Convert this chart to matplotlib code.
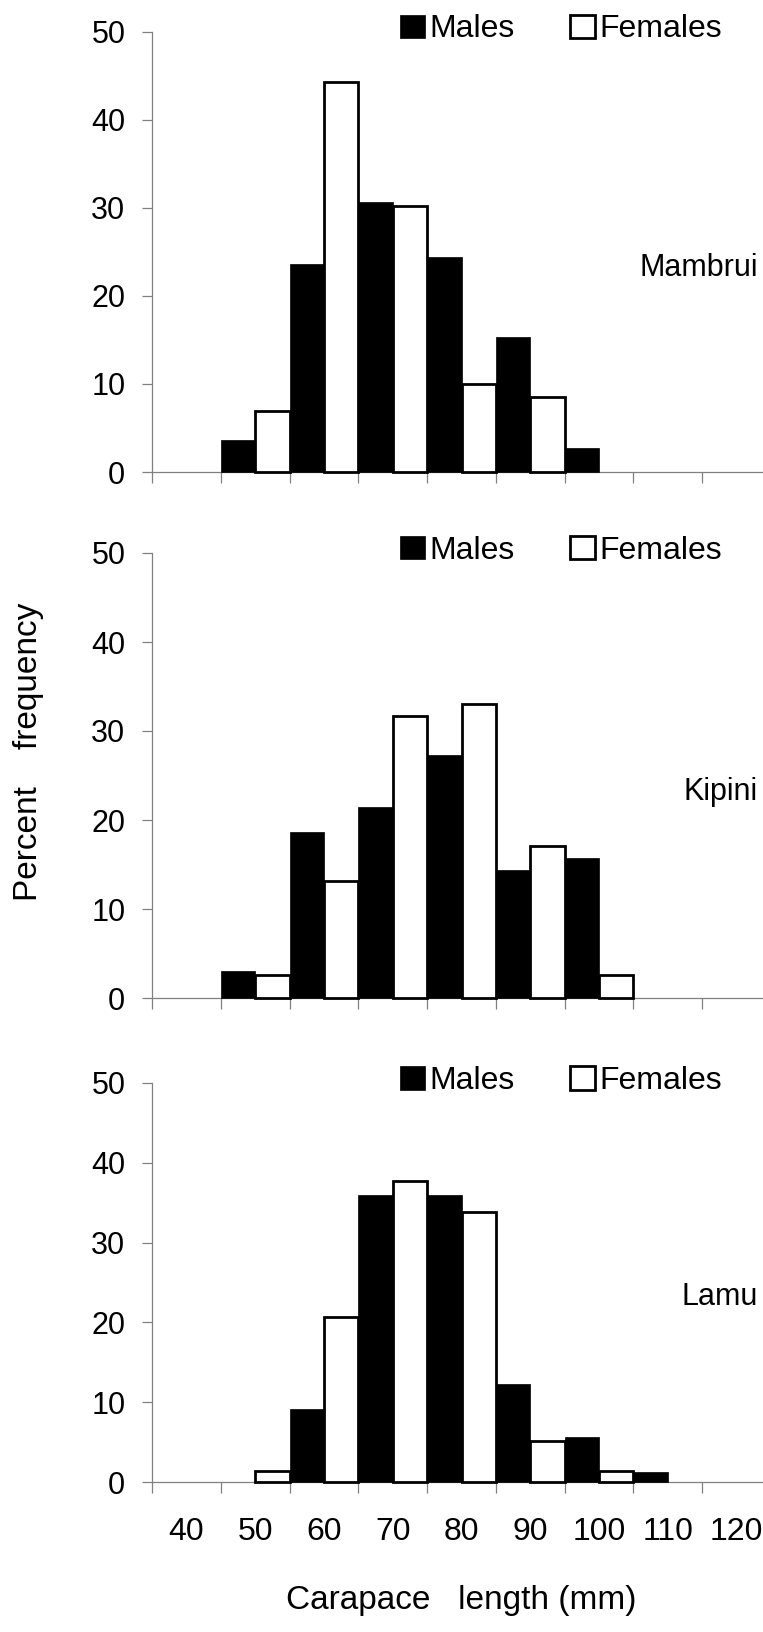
import matplotlib
matplotlib.use('Agg')
import matplotlib.pyplot as plt
import numpy as np
from matplotlib.patches import Patch

plt.rcParams['font.family'] = ['Liberation Sans', 'DejaVu Sans']

# ---- data ----
categories = [40, 50, 60, 70, 80, 90, 100, 110, 120]
sites = ['Mambrui', 'Kipini', 'Lamu']
mambrui_males = [0, 3.6, 23.6, 30.7, 24.4, 15.3, 2.7, 0, 0]
mambrui_females = [0, 6.9, 44.3, 30.2, 10.0, 8.5, 0, 0, 0]
kipini_males = [0, 3.0, 18.6, 21.5, 27.3, 14.4, 15.7, 0, 0]
kipini_females = [0, 2.6, 13.1, 31.7, 33.0, 17.1, 2.6, 0, 0]
lamu_males = [0, 0, 9.1, 36.0, 36.0, 12.3, 5.7, 1.2, 0]
lamu_females = [0, 1.4, 20.7, 37.7, 33.8, 5.2, 1.4, 0, 0]
legend_labels = ['Males', 'Females']
xlabel = 'Carapace   length (mm)'
ylabel = 'Percent    frequency'

panels = [
    (mambrui_males, mambrui_females),
    (kipini_males, kipini_females),
    (lamu_males, lamu_females),
]

W, H = 763, 1632
fig = plt.figure(figsize=(W / 100, H / 100), dpi=100)

left = 152 / W
width = 619 / W
# (top px, bottom px) of the 0..50 range for each panel
extents = [(31.7, 472), (553, 998), (1083, 1482)]

grey = '#808080'
FS = 22

for i, ((males, females), site, (ytop, ybot)) in enumerate(zip(panels, sites, extents)):
    ax = fig.add_axes([left, 1 - ybot / H, width, (ybot - ytop) / H])
    ax.set_facecolor('none')
    x = np.arange(len(categories))
    m = np.array(males, dtype=float)
    f = np.array(females, dtype=float)
    mm = m > 0
    fm = f > 0
    ax.bar(x[mm], m[mm], width=0.5, align='edge', color='black',
           edgecolor='black', linewidth=0.5, clip_on=False, zorder=2)
    ax.bar(x[fm] + 0.5, f[fm], width=0.5, align='edge', color='white',
           edgecolor='black', linewidth=2.0, clip_on=False, zorder=3)
    ax.set_xlim(0, len(categories))
    ax.set_ylim(0, 50)
    for s in ['top', 'right']:
        ax.spines[s].set_visible(False)
    for s in ['left', 'bottom']:
        ax.spines[s].set_color(grey)
        ax.spines[s].set_linewidth(0.9)
        ax.spines[s].set_zorder(1)
    ax.set_yticks(range(0, 51, 10))
    ax.tick_params(axis='y', direction='out', length=7.2, width=0.9,
                   color=grey, labelsize=FS, pad=12)
    ax.set_xticks(np.arange(0, len(categories) + 1))
    ax.set_xticklabels([])
    ax.tick_params(axis='x', which='major', direction='out', length=7.7,
                   width=0.9, color=grey)
    ax.set_xticks(x + 0.5, minor=True)
    if i == len(panels) - 1:
        ax.set_xticklabels([str(c) for c in categories], minor=True)
    else:
        ax.set_xticklabels([], minor=True)
    ax.tick_params(axis='x', which='minor', length=0, labelsize=FS + 1, pad=25)

    ax.text((758 - 152) / 619, 23.2, site, transform=ax.get_yaxis_transform(),
            ha='right', va='center', fontsize=FS)

    handles = [Patch(facecolor='black', edgecolor='black', linewidth=0.5),
               Patch(facecolor='white', edgecolor='black', linewidth=2.0)]
    ax.legend(handles, legend_labels, ncol=2, loc='center left',
              bbox_to_anchor=((400 - 152) / 619, 1.005), frameon=False,
              borderpad=0, borderaxespad=0, handlelength=0.78,
              handleheight=0.75, handletextpad=0.13, columnspacing=1.75,
              fontsize=FS + 1)

fig.text(461 / W, 1 - 1601 / H, xlabel, ha='center', va='center', fontsize=24)
fig.text(28.5 / W, 1 - 751.5 / H, ylabel, ha='center', va='center',
         rotation=90, fontsize=24)

fig.savefig('out.png', dpi=100)
